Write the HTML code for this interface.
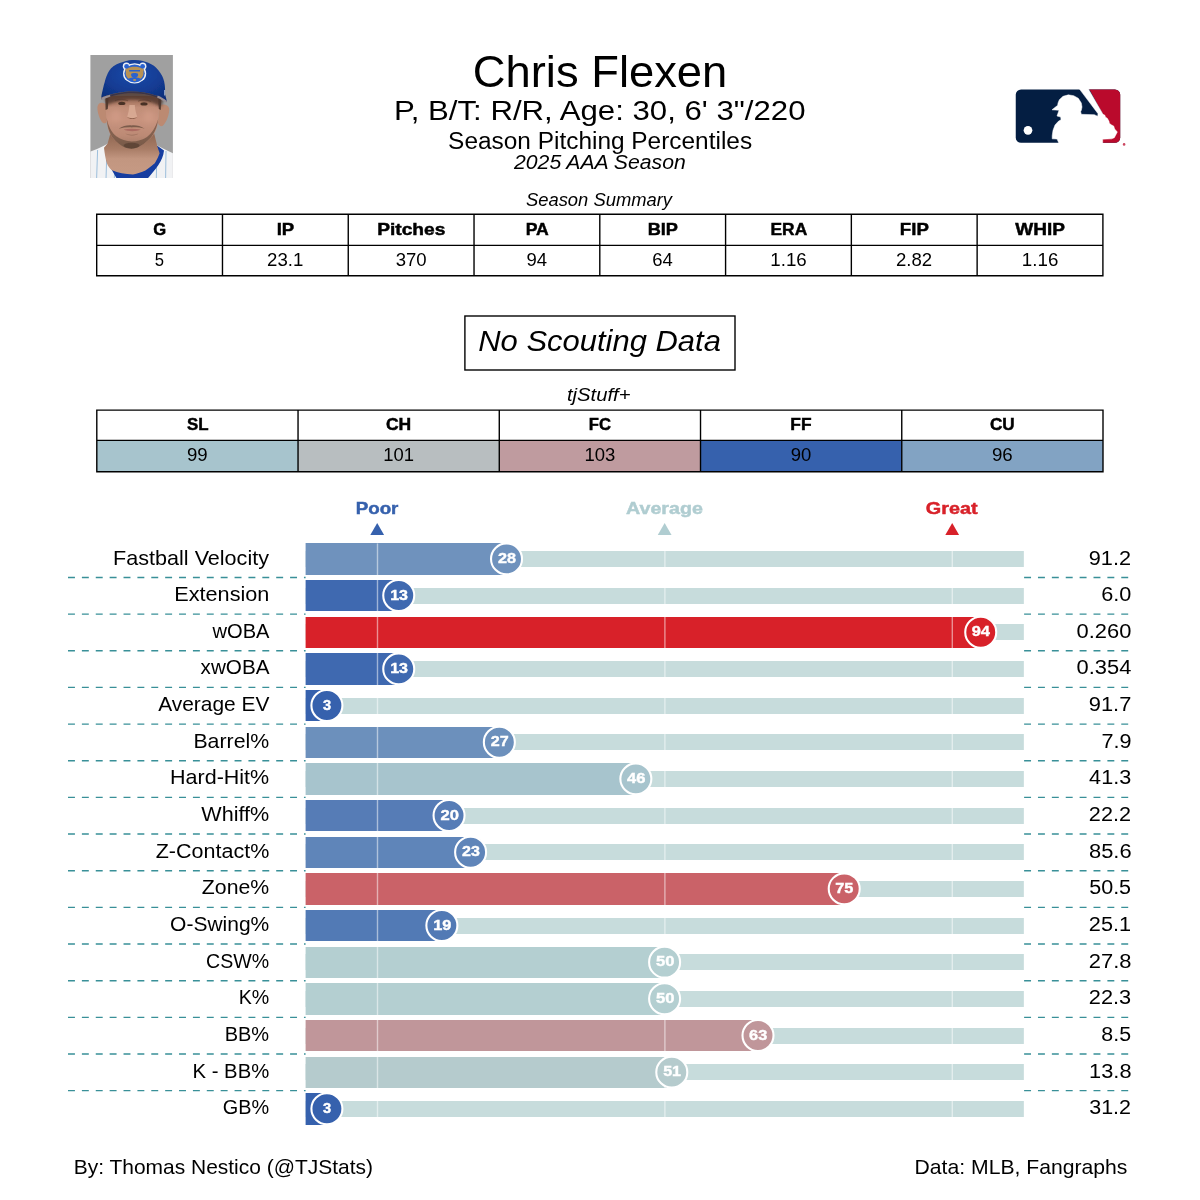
<!DOCTYPE html>
<html lang="en">
<head>
<meta charset="utf-8">
<title>Chris Flexen - Season Pitching Percentiles</title>
<style>
html,body{margin:0;padding:0;background:#fff;}
body{width:1200px;height:1200px;overflow:hidden;font-family:"Liberation Sans",sans-serif;}
svg{display:block;will-change:transform;}
svg text{font-family:"Liberation Sans",sans-serif;}
</style>
</head>
<body>
<svg width="1200" height="1200" viewBox="0 0 1200 1200">
<rect width="1200" height="1200" fill="#fff"/>
<defs>
<clipPath id="hs"><rect x="90.4" y="55.1" width="82.5" height="122.9"/></clipPath>
<filter id="b1" x="-20%" y="-20%" width="140%" height="140%"><feGaussianBlur stdDeviation="0.7"/></filter>
<filter id="b2" x="-30%" y="-30%" width="160%" height="160%"><feGaussianBlur stdDeviation="1.6"/></filter>
<filter id="b3" x="-50%" y="-50%" width="200%" height="200%"><feGaussianBlur stdDeviation="2.6"/></filter>
<linearGradient id="skin" x1="0" y1="0" x2="0" y2="1"><stop offset="0" stop-color="#94644E"/><stop offset="0.22" stop-color="#C18E78"/><stop offset="0.45" stop-color="#C8937E"/><stop offset="0.75" stop-color="#BC8A75"/><stop offset="1" stop-color="#9C7560"/></linearGradient>
<linearGradient id="neck" x1="0" y1="0" x2="0" y2="1"><stop offset="0" stop-color="#8E6650"/><stop offset="0.38" stop-color="#A87C66"/><stop offset="0.62" stop-color="#C29680"/><stop offset="1" stop-color="#C69A84"/></linearGradient>
<radialGradient id="cap" cx="0.5" cy="0.35" r="0.75"><stop offset="0" stop-color="#1A4CAA"/><stop offset="0.55" stop-color="#133C94"/><stop offset="1" stop-color="#0D2E78"/></radialGradient>
</defs>
<g clip-path="url(#hs)">
<rect x="90" y="55" width="84" height="124" fill="#A0A0A0"/>
<g filter="url(#b1)">
<path d="M88 152.6 L97 149 L103.4 146 L108 143.6 L154 143.6 L156.8 145.2 L164.5 149.3 L175 154.2 V180 H88Z" fill="#F1F2F4"/>
<path d="M97.6 150 L96.6 179 M106.6 160 L106 179 M114.6 172 L114.3 179 M156.6 166 L156.3 179 M166 151 L165.6 179" stroke="#9DBFDC" stroke-width="1" fill="none"/>
<path d="M155 144.6 L158 146.2 L164 150.4 C163.4 156 161.5 160 158.4 165 C154.6 170.5 150.6 175 147.2 179 L117 179 L111.4 169.2 L106 160 L112 160 L125 170 L140 170 L152 160Z" fill="#133DA0"/>
<path d="M110.5 133 L107.6 143.5 L104 147.7 C104.6 153 105.4 158 106.6 162.5 C108 166.5 110 168.8 112 170.2 C118 172.6 125 174.2 133 174.4 C137.5 173.9 141.6 172.2 145.4 170.6 C150 167.4 153 164.6 154.8 163.2 C157 159.5 158.6 156 159.6 153.2 L157.4 146.4 L154 133Z" fill="url(#neck)"/>
</g>
<g filter="url(#b1)">
<path d="M106.5 104.5 C102 101.5 98 102.5 97.4 107 C97.2 112 99.6 120 103 123 C105 123.8 106.6 123 107 121Z" fill="#BC8A72"/>
<path d="M158.6 106 C162.5 103.6 168 104 169.2 108.5 C169.6 114 166.5 122.5 162.5 126 C160.5 126.6 158.6 125.5 158 123Z" fill="#BC8A72"/>
<path d="M105.6 96 C105.4 104 106 116 107 124 C108.4 131 110 134.5 112.4 137.5 C115.5 141.4 119 144 122.4 146.2 C126 148.2 129 148.9 131.2 148.9 C134 148.9 137.6 148 141.4 145.6 C146 142.4 149.6 139.4 152.6 136 C155.4 132 157 128 157.8 123.6 C158.8 116 159.4 104 159.2 96Z" fill="url(#skin)"/>
</g>
<g filter="url(#b1)">
<path d="M106.6 118 C107.4 127 109.4 133 112.6 137.6 C116.6 142.6 121.4 145.8 125 147.6 C128.4 149 133 149.2 136.6 147.8 C141.4 145.8 146.4 142.4 150.8 137.6 C154.4 133.2 157 127.6 158.2 119 C155.6 127.6 151.6 133.6 147 137 C142.6 140 137.6 141.4 131.8 141.4 C126 141.4 120.8 139.8 116.6 136.6 C111.6 132.6 108.4 126.6 106.6 118Z" fill="#5E4636" fill-opacity="0.62"/>
<path d="M118.6 128.8 C122.6 126 127.4 125 131.6 125.4 C136 125 140.6 126 144.8 128.8 C140.6 127.6 136.4 127.2 131.8 127.4 C127.4 127.2 123 127.6 118.6 128.8Z" fill="#5E4636" fill-opacity="0.7"/>
<path d="M123.6 129.6 C128.4 128.6 135 128.6 140.8 129.6 C137 131.8 127.4 131.8 123.6 129.6Z" fill="#A8655E" fill-opacity="0.85"/>
<path d="M125.4 133.6 C129 135 134.6 135 138.6 133.6 C136 136.4 128.4 136.4 125.4 133.6Z" fill="#8A6250" fill-opacity="0.5"/>
<ellipse cx="131.6" cy="145.6" rx="8" ry="2.8" fill="#4E392C" fill-opacity="0.6"/>
</g>
<g filter="url(#b3)">
<ellipse cx="116" cy="116" rx="5.5" ry="6" fill="#D39C88" fill-opacity="0.7"/>
<ellipse cx="148.6" cy="116.6" rx="5.5" ry="6" fill="#D39C88" fill-opacity="0.7"/>
</g>
<g filter="url(#b1)">
<path d="M129.4 105 C129.2 110 128 114 127.2 116.6 C129.4 119.6 134.6 119.6 137.2 116.6 C136.2 113.6 135 110 134.8 105Z" fill="#DDB09A" fill-opacity="0.75"/>
<path d="M127 117 C129.6 119.8 134.8 119.8 137.4 117 C135.6 118.4 129.4 118.6 127 117Z" fill="#8F604C"/>
<ellipse cx="121.8" cy="103.4" rx="3.6" ry="1.6" fill="#4A3126"/>
<ellipse cx="144" cy="103.9" rx="3.6" ry="1.6" fill="#4A3126"/>
<path d="M115 100.6 C119 98.8 125 99 128 100.8 M138 101.2 C141.6 99.4 147.6 99.4 151 101.4" stroke="#7A5240" stroke-width="1.2" fill="none" stroke-opacity="0.85"/>
<path d="M105.4 98 L108.6 98 L107.8 109 L105.6 110Z M158.2 98 L161.2 98.4 L160.8 110 L158.8 109Z" fill="#3E2C22" fill-opacity="0.8"/>
</g>
<path d="M104 96 C112 92 125 90.4 135 90.6 C147 91 158 94.4 163.6 99.6 L161 107 C154 102.6 146 100.2 134.6 99.8 C124 99.8 114 101.6 107 105Z" fill="#4E342A" fill-opacity="0.8" filter="url(#b2)"/>
<g filter="url(#b1)">
<path d="M101.2 97.5 C101.8 94 102.2 92 102.8 89.6 C103.4 86.6 104 84 104.8 81.7 C105.6 78.6 106.6 76 107.6 73.8 C108.6 71.6 109.8 69.6 111.1 68.2 C112.8 66.6 114.6 65.4 116.7 64.3 C118.6 63.4 120.8 62.6 123 61.9 C125 61.2 127.2 60.7 129.3 60.3 C131.2 60 133 59.9 134.9 59.9 C137.4 60 139.8 60.3 142 60.7 C144.2 61.2 146.4 61.9 148.3 62.7 C150.4 63.6 152.2 64.6 153.9 65.8 C155.6 67.2 157.2 68.8 158.6 70.6 C160 72.4 161.2 74.2 162.2 76.1 C163 77.8 163.7 79.8 164.2 81.7 C164.7 83.8 164.9 86 165 88 C165.1 90 165.1 92.4 165.1 94.3 L166.8 100.9 C160 96.6 152 93.6 144 92.4 C138 91.4 131 91.2 125 91.8 C116 92.8 108 95 101.2 97.5Z" fill="url(#cap)"/>
<path d="M101.2 97.6 C108 94.9 116 92.9 125 91.9 C131 91.3 138 91.5 144 92.5 C152 93.7 160 96.7 166.8 100.9 L166.5 102 C159.6 98 152 95.2 144 94 C138 93.1 131 92.9 125 93.4 C116 94.4 108 96.8 101.6 99.4Z" fill="#3A3448"/>
<path d="M101.3 97.8 C104 96.6 107 95.6 110 94.8 L110.4 96.6 C107.4 97.6 104.4 98.8 101.8 100.2Z" fill="#9A8F94"/>
<path d="M157.6 95.6 C161 97 164 98.8 166.8 100.9 L166.4 103 C163.6 101 160.6 99.2 157.2 97.8Z" fill="#9A8F94"/>
<g>
<circle cx="126.4" cy="66.2" r="3.6" fill="#EEF0F6"/><circle cx="142.8" cy="66.2" r="3.6" fill="#EEF0F6"/>
<ellipse cx="134.6" cy="73.4" rx="11.6" ry="10.2" fill="#EEF0F6"/>
<circle cx="126.6" cy="66.5" r="2.4" fill="#2A62D0"/><circle cx="142.6" cy="66.5" r="2.4" fill="#2A62D0"/>
<ellipse cx="134.6" cy="73.5" rx="10.2" ry="8.9" fill="#2A62D0"/>
<path d="M127.4 68.6 C129.6 66.2 139.6 66.2 141.8 68.6 C143.8 67.8 144.4 70.2 143.4 71.4 C144 74.6 142.6 77.4 140.6 78.8 C138.6 77 130.6 77 128.6 78.8 C126.6 77.4 125.2 74.6 125.8 71.4 C124.8 70.2 125.4 67.8 127.4 68.6Z" fill="#B89254"/>
<path d="M129.2 70 H140 V71.6 H129.2Z M131.2 73.8 C132.4 72.6 136.8 72.6 138 73.8 C138.6 75.8 137.4 77.8 134.6 78.2 C131.8 77.8 130.6 75.8 131.2 73.8Z" fill="#2A62D0"/>
<ellipse cx="134.6" cy="80" rx="1.6" ry="0.9" fill="#B89254"/>
</g>
</g>
<rect x="164" y="90" width="1.2" height="5.5" fill="#BFC9DD" fill-opacity="0.7"/>
</g>
<defs><clipPath id="mlb"><rect x="1015.75" y="89.4" width="104.45" height="53.4" rx="5.3" ry="5.3"/></clipPath></defs>
<g clip-path="url(#mlb)">
<rect x="1010" y="85" width="120" height="62" fill="#041E42"/>
<path d="M1088.67 88 L1125 88 L1125 146 L1100 146 L1103 114.33Z" fill="#BA0A2C"/>
<circle cx="1028" cy="130.3" r="4.35" fill="#fff"/>
</g>
<path d="M1059.00 143.40 L1057.00 139.00 L1052.20 138.87 L1052.20 135.67 L1053.00 130.33 L1055.00 125.00 L1058.33 121.33 L1061.00 119.67 L1060.67 117.00 L1057.00 116.00 L1059.00 110.33 L1052.00 109.80 L1057.67 105.33 L1058.00 103.00 L1059.33 99.67 L1063.00 96.33 L1068.33 94.87 L1073.67 95.67 L1078.33 98.33 L1081.33 103.00 L1082.00 107.00 L1081.33 110.33 L1080.67 111.67 L1081.33 114.33 L1094.33 114.67 L1097.67 116.33 L1098.00 113.67 L1079.10 88.60 L1088.10 88.60 L1103.00 114.33 L1105.00 115.33 L1105.33 117.00 L1107.33 118.33 L1109.00 121.33 L1109.33 123.33 L1111.67 125.00 L1113.67 126.00 L1114.67 129.00 L1117.33 132.00 L1114.33 137.67 L1111.67 138.87 L1102.67 139.13 L1102.67 143.40Z" fill="#fff" stroke="#fff" stroke-width="0.5" stroke-linejoin="round"/>
<circle cx="1124.1" cy="144.4" r="1.3" fill="#BA0A2C" fill-opacity="0.75"/>
<text x="472.81" y="87.00" font-size="43.68" fill="#000" textLength="254.52" lengthAdjust="spacingAndGlyphs">Chris Flexen</text>
<text x="393.97" y="120.00" font-size="28.35" fill="#000" textLength="411.57" lengthAdjust="spacingAndGlyphs">P, B/T: R/R, Age: 30, 6' 3"/220</text>
<text x="448.11" y="149.00" font-size="23.30" fill="#000" textLength="304.00" lengthAdjust="spacingAndGlyphs">Season Pitching Percentiles</text>
<text x="514.04" y="169.00" font-size="20.56" font-style="italic" fill="#000" textLength="171.74" lengthAdjust="spacingAndGlyphs">2025 AAA Season</text>
<text x="525.97" y="206.00" font-size="17.62" font-style="italic" fill="#000" textLength="146.10" lengthAdjust="spacingAndGlyphs">Season Summary</text>
<path d="M96.01 214.30H1103.60M96.01 245.40H1103.60M96.01 275.80H1103.60M96.70 214.30V275.80M222.48 214.30V275.80M348.25 214.30V275.80M474.03 214.30V275.80M599.80 214.30V275.80M725.58 214.30V275.80M851.35 214.30V275.80M977.13 214.30V275.80M1102.90 214.30V275.80" stroke="#000" stroke-width="1.39" fill="none"/>
<text x="153.15" y="235.00" font-size="17.29" font-weight="bold" stroke="#000" stroke-width="0.47" fill="#000" textLength="12.91" lengthAdjust="spacingAndGlyphs">G</text>
<text x="154.87" y="266.00" font-size="17.63" fill="#000" textLength="9.27" lengthAdjust="spacingAndGlyphs">5</text>
<text x="276.68" y="235.00" font-size="17.29" font-weight="bold" stroke="#000" stroke-width="0.47" fill="#000" textLength="17.54" lengthAdjust="spacingAndGlyphs">IP</text>
<text x="267.04" y="266.00" font-size="17.62" fill="#000" textLength="36.21" lengthAdjust="spacingAndGlyphs">23.1</text>
<text x="377.19" y="235.00" font-size="17.15" font-weight="bold" stroke="#000" stroke-width="0.47" fill="#000" textLength="68.17" lengthAdjust="spacingAndGlyphs">Pitches</text>
<text x="395.74" y="266.00" font-size="17.62" fill="#000" textLength="30.96" lengthAdjust="spacingAndGlyphs">370</text>
<text x="525.71" y="235.00" font-size="17.29" font-weight="bold" stroke="#000" stroke-width="0.47" fill="#000" textLength="23.12" lengthAdjust="spacingAndGlyphs">PA</text>
<text x="526.48" y="266.00" font-size="17.62" fill="#000" textLength="20.59" lengthAdjust="spacingAndGlyphs">94</text>
<text x="647.68" y="235.00" font-size="17.29" font-weight="bold" stroke="#000" stroke-width="0.47" fill="#000" textLength="30.30" lengthAdjust="spacingAndGlyphs">BIP</text>
<text x="652.33" y="266.00" font-size="17.62" fill="#000" textLength="20.51" lengthAdjust="spacingAndGlyphs">64</text>
<text x="770.51" y="235.00" font-size="17.29" font-weight="bold" stroke="#000" stroke-width="0.47" fill="#000" textLength="36.71" lengthAdjust="spacingAndGlyphs">ERA</text>
<text x="770.34" y="266.00" font-size="17.62" fill="#000" textLength="36.43" lengthAdjust="spacingAndGlyphs">1.16</text>
<text x="899.86" y="235.00" font-size="17.29" font-weight="bold" stroke="#000" stroke-width="0.47" fill="#000" textLength="28.98" lengthAdjust="spacingAndGlyphs">FIP</text>
<text x="895.92" y="266.00" font-size="17.62" fill="#000" textLength="36.13" lengthAdjust="spacingAndGlyphs">2.82</text>
<text x="1015.37" y="235.00" font-size="17.29" font-weight="bold" stroke="#000" stroke-width="0.47" fill="#000" textLength="49.70" lengthAdjust="spacingAndGlyphs">WHIP</text>
<text x="1021.89" y="266.00" font-size="17.62" fill="#000" textLength="36.43" lengthAdjust="spacingAndGlyphs">1.16</text>
<rect x="464.9" y="316.0" width="270.1" height="54.0" fill="#fff" stroke="#000" stroke-width="1.39"/>
<text x="478.21" y="351.00" font-size="29.12" font-style="italic" fill="#000" textLength="242.65" lengthAdjust="spacingAndGlyphs">No Scouting Data</text>
<text x="566.95" y="401.00" font-size="17.47" font-style="italic" fill="#000" textLength="63.63" lengthAdjust="spacingAndGlyphs">tjStuff+</text>
<rect x="96.80" y="440.40" width="201.24" height="31.40" fill="#A7C4CD"/>
<rect x="298.04" y="440.40" width="201.24" height="31.40" fill="#B8BEC0"/>
<rect x="499.28" y="440.40" width="201.24" height="31.40" fill="#BF9B9F"/>
<rect x="700.52" y="440.40" width="201.24" height="31.40" fill="#3661AD"/>
<rect x="901.76" y="440.40" width="201.24" height="31.40" fill="#82A3C3"/>
<path d="M96.11 410.10H1103.69M96.11 440.40H1103.69M96.11 471.80H1103.69M96.80 410.10V471.80M298.04 410.10V471.80M499.28 410.10V471.80M700.52 410.10V471.80M901.76 410.10V471.80M1103.00 410.10V471.80" stroke="#000" stroke-width="1.39" fill="none"/>
<text x="187.00" y="430.00" font-size="17.29" font-weight="bold" stroke="#000" stroke-width="0.47" fill="#000" textLength="21.60" lengthAdjust="spacingAndGlyphs">SL</text>
<text x="186.98" y="461.00" font-size="17.62" fill="#000" textLength="20.72" lengthAdjust="spacingAndGlyphs">99</text>
<text x="385.94" y="430.00" font-size="17.29" font-weight="bold" stroke="#000" stroke-width="0.47" fill="#000" textLength="25.28" lengthAdjust="spacingAndGlyphs">CH</text>
<text x="383.20" y="461.00" font-size="17.62" fill="#000" textLength="30.78" lengthAdjust="spacingAndGlyphs">101</text>
<text x="588.74" y="430.00" font-size="17.29" font-weight="bold" stroke="#000" stroke-width="0.47" fill="#000" textLength="22.16" lengthAdjust="spacingAndGlyphs">FC</text>
<text x="584.44" y="461.00" font-size="17.62" fill="#000" textLength="30.86" lengthAdjust="spacingAndGlyphs">103</text>
<text x="790.36" y="430.00" font-size="17.29" font-weight="bold" stroke="#000" stroke-width="0.47" fill="#000" textLength="21.22" lengthAdjust="spacingAndGlyphs">FF</text>
<text x="790.70" y="461.00" font-size="17.62" fill="#000" textLength="20.61" lengthAdjust="spacingAndGlyphs">90</text>
<text x="989.88" y="430.00" font-size="17.29" font-weight="bold" stroke="#000" stroke-width="0.47" fill="#000" textLength="24.74" lengthAdjust="spacingAndGlyphs">CU</text>
<text x="991.93" y="461.00" font-size="17.62" fill="#000" textLength="20.80" lengthAdjust="spacingAndGlyphs">96</text>
<text x="355.70" y="514.00" font-size="17.29" font-weight="bold" stroke="#3661AD" stroke-width="0.47" fill="#3661AD" textLength="42.74" lengthAdjust="spacingAndGlyphs">Poor</text>
<path d="M377.20 523.1L384.10 534.9H370.30Z" fill="#3661AD"/>
<text x="626.04" y="514.00" font-size="17.29" font-weight="bold" stroke="#B0CDD1" stroke-width="0.47" fill="#B0CDD1" textLength="76.86" lengthAdjust="spacingAndGlyphs">Average</text>
<path d="M664.65 523.1L671.55 534.9H657.75Z" fill="#B0CDD1"/>
<text x="925.87" y="514.00" font-size="17.29" font-weight="bold" stroke="#D82129" stroke-width="0.47" fill="#D82129" textLength="51.74" lengthAdjust="spacingAndGlyphs">Great</text>
<path d="M952.20 523.1L959.10 534.9H945.30Z" fill="#D82129"/>
<path d="M68 577.43H305.60M68 614.09H305.60M68 650.75H305.60M68 687.41H305.60M68 724.07H305.60M68 760.73H305.60M68 797.39H305.60M68 834.05H305.60M68 870.71H305.60M68 907.37H305.60M68 944.03H305.60M68 980.69H305.60M68 1017.35H305.60M68 1054.01H305.60M68 1090.67H305.60" stroke="#399098" stroke-width="1.39" stroke-dasharray="6.94 6.94" fill="none"/>
<path d="M1024.1 577.43H1128.3M1024.1 614.09H1128.3M1024.1 650.75H1128.3M1024.1 687.41H1128.3M1024.1 724.07H1128.3M1024.1 760.73H1128.3M1024.1 797.39H1128.3M1024.1 834.05H1128.3M1024.1 870.71H1128.3M1024.1 907.37H1128.3M1024.1 944.03H1128.3M1024.1 980.69H1128.3M1024.1 1017.35H1128.3M1024.1 1054.01H1128.3M1024.1 1090.67H1128.3" stroke="#399098" stroke-width="1.39" stroke-dasharray="6.94 6.94" fill="none"/>
<rect x="305.60" y="551" width="718.25" height="16" fill="#C7DCDC"/>
<rect x="305.60" y="543" width="200.93" height="32" fill="#6F92BD"/>
<rect x="305.60" y="588" width="718.25" height="16" fill="#C7DCDC"/>
<rect x="305.60" y="580" width="93.15" height="31" fill="#3F69B0"/>
<rect x="305.60" y="624" width="718.25" height="16" fill="#C7DCDC"/>
<rect x="305.60" y="617" width="675.14" height="31" fill="#D82129"/>
<rect x="305.60" y="661" width="718.25" height="16" fill="#C7DCDC"/>
<rect x="305.60" y="653" width="93.15" height="32" fill="#3F69B0"/>
<rect x="305.60" y="698" width="718.25" height="16" fill="#C7DCDC"/>
<rect x="305.60" y="690" width="21.31" height="31" fill="#3661AD"/>
<rect x="305.60" y="734" width="718.25" height="16" fill="#C7DCDC"/>
<rect x="305.60" y="727" width="193.75" height="31" fill="#6C90BC"/>
<rect x="305.60" y="771" width="718.25" height="16" fill="#C7DCDC"/>
<rect x="305.60" y="763" width="330.26" height="32" fill="#A7C4CD"/>
<rect x="305.60" y="808" width="718.25" height="16" fill="#C7DCDC"/>
<rect x="305.60" y="800" width="143.45" height="31" fill="#567CB6"/>
<rect x="305.60" y="844" width="718.25" height="16" fill="#C7DCDC"/>
<rect x="305.60" y="837" width="165.00" height="31" fill="#5F85B9"/>
<rect x="305.60" y="881" width="718.25" height="16" fill="#C7DCDC"/>
<rect x="305.60" y="873" width="538.62" height="32" fill="#CA6268"/>
<rect x="305.60" y="918" width="718.25" height="16" fill="#C7DCDC"/>
<rect x="305.60" y="910" width="136.26" height="31" fill="#527AB5"/>
<rect x="305.60" y="954" width="718.25" height="16" fill="#C7DCDC"/>
<rect x="305.60" y="947" width="359.00" height="31" fill="#B4CFD1"/>
<rect x="305.60" y="991" width="718.25" height="16" fill="#C7DCDC"/>
<rect x="305.60" y="983" width="359.00" height="32" fill="#B4CFD1"/>
<rect x="305.60" y="1028" width="718.25" height="16" fill="#C7DCDC"/>
<rect x="305.60" y="1020" width="452.40" height="31" fill="#C0969A"/>
<rect x="305.60" y="1064" width="718.25" height="16" fill="#C7DCDC"/>
<rect x="305.60" y="1057" width="366.19" height="31" fill="#B5CBCD"/>
<rect x="305.60" y="1101" width="718.25" height="16" fill="#C7DCDC"/>
<rect x="305.60" y="1093" width="21.31" height="32" fill="#3661AD"/>
<text x="113.13" y="565.00" font-size="20.38" fill="#000" textLength="155.84" lengthAdjust="spacingAndGlyphs">Fastball Velocity</text>
<text x="1088.79" y="565.00" font-size="20.56" fill="#000" textLength="42.24" lengthAdjust="spacingAndGlyphs">91.2</text>
<text x="174.26" y="601.00" font-size="20.38" fill="#000" textLength="95.15" lengthAdjust="spacingAndGlyphs">Extension</text>
<text x="1101.25" y="601.00" font-size="20.56" fill="#000" textLength="30.14" lengthAdjust="spacingAndGlyphs">6.0</text>
<text x="212.53" y="638.00" font-size="20.56" fill="#000" textLength="56.96" lengthAdjust="spacingAndGlyphs">wOBA</text>
<text x="1076.62" y="638.00" font-size="20.56" fill="#000" textLength="54.78" lengthAdjust="spacingAndGlyphs">0.260</text>
<text x="200.62" y="674.00" font-size="20.56" fill="#000" textLength="68.93" lengthAdjust="spacingAndGlyphs">xwOBA</text>
<text x="1076.62" y="674.00" font-size="20.56" fill="#000" textLength="54.75" lengthAdjust="spacingAndGlyphs">0.354</text>
<text x="158.18" y="711.00" font-size="20.57" fill="#000" textLength="111.30" lengthAdjust="spacingAndGlyphs">Average EV</text>
<text x="1088.79" y="711.00" font-size="20.56" fill="#000" textLength="42.55" lengthAdjust="spacingAndGlyphs">91.7</text>
<text x="193.42" y="748.00" font-size="20.38" fill="#000" textLength="75.78" lengthAdjust="spacingAndGlyphs">Barrel%</text>
<text x="1101.45" y="748.00" font-size="20.56" fill="#000" textLength="30.06" lengthAdjust="spacingAndGlyphs">7.9</text>
<text x="170.05" y="784.00" font-size="20.38" fill="#000" textLength="99.14" lengthAdjust="spacingAndGlyphs">Hard-Hit%</text>
<text x="1089.14" y="784.00" font-size="20.56" fill="#000" textLength="42.06" lengthAdjust="spacingAndGlyphs">41.3</text>
<text x="201.35" y="821.00" font-size="20.38" fill="#000" textLength="67.92" lengthAdjust="spacingAndGlyphs">Whiff%</text>
<text x="1088.88" y="821.00" font-size="20.56" fill="#000" textLength="42.15" lengthAdjust="spacingAndGlyphs">22.2</text>
<text x="155.70" y="858.00" font-size="20.56" fill="#000" textLength="113.58" lengthAdjust="spacingAndGlyphs">Z-Contact%</text>
<text x="1088.99" y="858.00" font-size="20.56" fill="#000" textLength="42.61" lengthAdjust="spacingAndGlyphs">85.6</text>
<text x="201.86" y="894.00" font-size="20.70" fill="#000" textLength="67.36" lengthAdjust="spacingAndGlyphs">Zone%</text>
<text x="1089.20" y="894.00" font-size="20.56" fill="#000" textLength="41.90" lengthAdjust="spacingAndGlyphs">50.5</text>
<text x="170.07" y="931.00" font-size="20.38" fill="#000" textLength="99.17" lengthAdjust="spacingAndGlyphs">O-Swing%</text>
<text x="1088.88" y="931.00" font-size="20.56" fill="#000" textLength="42.24" lengthAdjust="spacingAndGlyphs">25.1</text>
<text x="206.07" y="968.00" font-size="20.56" fill="#000" textLength="63.05" lengthAdjust="spacingAndGlyphs">CSW%</text>
<text x="1088.87" y="968.00" font-size="20.56" fill="#000" textLength="42.64" lengthAdjust="spacingAndGlyphs">27.8</text>
<text x="238.65" y="1004.00" font-size="20.70" fill="#000" textLength="30.57" lengthAdjust="spacingAndGlyphs">K%</text>
<text x="1088.88" y="1004.00" font-size="20.56" fill="#000" textLength="42.33" lengthAdjust="spacingAndGlyphs">22.3</text>
<text x="224.69" y="1041.00" font-size="20.70" fill="#000" textLength="44.46" lengthAdjust="spacingAndGlyphs">BB%</text>
<text x="1101.38" y="1041.00" font-size="20.56" fill="#000" textLength="29.71" lengthAdjust="spacingAndGlyphs">8.5</text>
<text x="192.54" y="1078.00" font-size="20.70" fill="#000" textLength="76.69" lengthAdjust="spacingAndGlyphs">K - BB%</text>
<text x="1089.11" y="1078.00" font-size="20.56" fill="#000" textLength="42.39" lengthAdjust="spacingAndGlyphs">13.8</text>
<text x="222.79" y="1114.00" font-size="20.56" fill="#000" textLength="46.39" lengthAdjust="spacingAndGlyphs">GB%</text>
<text x="1089.20" y="1114.00" font-size="20.56" fill="#000" textLength="41.82" lengthAdjust="spacingAndGlyphs">31.2</text>
<rect x="376.80" y="543.43" width="1.39" height="581.24" fill="#fff" fill-opacity="0.5"/>
<rect x="664.20" y="543.43" width="1.39" height="581.24" fill="#fff" fill-opacity="0.5"/>
<rect x="951.60" y="543.43" width="1.39" height="581.24" fill="#fff" fill-opacity="0.5"/>
<circle cx="506.53" cy="558.90" r="15.5" fill="#6F92BD" stroke="#fff" stroke-width="2.08"/>
<text x="497.90" y="563.00" font-size="14.40" font-weight="bold" stroke="#fff" stroke-width="0.39" fill="#fff" textLength="18.07" lengthAdjust="spacingAndGlyphs">28</text>
<circle cx="398.75" cy="595.56" r="15.5" fill="#3F69B0" stroke="#fff" stroke-width="2.08"/>
<text x="390.15" y="600.00" font-size="14.40" font-weight="bold" stroke="#fff" stroke-width="0.39" fill="#fff" textLength="17.84" lengthAdjust="spacingAndGlyphs">13</text>
<circle cx="980.74" cy="632.22" r="15.5" fill="#D82129" stroke="#fff" stroke-width="2.08"/>
<text x="971.69" y="636.00" font-size="14.40" font-weight="bold" stroke="#fff" stroke-width="0.39" fill="#fff" textLength="18.29" lengthAdjust="spacingAndGlyphs">94</text>
<circle cx="398.75" cy="668.88" r="15.5" fill="#3F69B0" stroke="#fff" stroke-width="2.08"/>
<text x="390.15" y="673.00" font-size="14.40" font-weight="bold" stroke="#fff" stroke-width="0.39" fill="#fff" textLength="17.84" lengthAdjust="spacingAndGlyphs">13</text>
<circle cx="326.91" cy="705.54" r="15.5" fill="#3661AD" stroke="#fff" stroke-width="2.08"/>
<text x="323.10" y="710.00" font-size="14.40" font-weight="bold" stroke="#fff" stroke-width="0.39" fill="#fff" textLength="8.15" lengthAdjust="spacingAndGlyphs">3</text>
<circle cx="499.35" cy="742.20" r="15.5" fill="#6C90BC" stroke="#fff" stroke-width="2.08"/>
<text x="490.72" y="746.00" font-size="14.40" font-weight="bold" stroke="#fff" stroke-width="0.39" fill="#fff" textLength="17.94" lengthAdjust="spacingAndGlyphs">27</text>
<circle cx="635.86" cy="778.86" r="15.5" fill="#A7C4CD" stroke="#fff" stroke-width="2.08"/>
<text x="627.07" y="783.00" font-size="14.40" font-weight="bold" stroke="#fff" stroke-width="0.39" fill="#fff" textLength="18.47" lengthAdjust="spacingAndGlyphs">46</text>
<circle cx="449.05" cy="815.52" r="15.5" fill="#567CB6" stroke="#fff" stroke-width="2.08"/>
<text x="440.41" y="820.00" font-size="14.40" font-weight="bold" stroke="#fff" stroke-width="0.39" fill="#fff" textLength="18.46" lengthAdjust="spacingAndGlyphs">20</text>
<circle cx="470.61" cy="852.18" r="15.5" fill="#5F85B9" stroke="#fff" stroke-width="2.08"/>
<text x="461.99" y="856.00" font-size="14.40" font-weight="bold" stroke="#fff" stroke-width="0.39" fill="#fff" textLength="17.86" lengthAdjust="spacingAndGlyphs">23</text>
<circle cx="844.23" cy="888.84" r="15.5" fill="#CA6268" stroke="#fff" stroke-width="2.08"/>
<text x="835.31" y="893.00" font-size="14.41" font-weight="bold" stroke="#fff" stroke-width="0.39" fill="#fff" textLength="18.14" lengthAdjust="spacingAndGlyphs">75</text>
<circle cx="441.87" cy="925.50" r="15.5" fill="#527AB5" stroke="#fff" stroke-width="2.08"/>
<text x="433.24" y="930.00" font-size="14.40" font-weight="bold" stroke="#fff" stroke-width="0.39" fill="#fff" textLength="18.14" lengthAdjust="spacingAndGlyphs">19</text>
<circle cx="664.60" cy="962.16" r="15.5" fill="#B4CFD1" stroke="#fff" stroke-width="2.08"/>
<text x="655.97" y="966.00" font-size="14.40" font-weight="bold" stroke="#fff" stroke-width="0.39" fill="#fff" textLength="18.45" lengthAdjust="spacingAndGlyphs">50</text>
<circle cx="664.60" cy="998.82" r="15.5" fill="#B4CFD1" stroke="#fff" stroke-width="2.08"/>
<text x="655.97" y="1003.00" font-size="14.40" font-weight="bold" stroke="#fff" stroke-width="0.39" fill="#fff" textLength="18.45" lengthAdjust="spacingAndGlyphs">50</text>
<circle cx="758.00" cy="1035.48" r="15.5" fill="#C0969A" stroke="#fff" stroke-width="2.08"/>
<text x="749.10" y="1040.00" font-size="14.40" font-weight="bold" stroke="#fff" stroke-width="0.39" fill="#fff" textLength="18.15" lengthAdjust="spacingAndGlyphs">63</text>
<circle cx="671.79" cy="1072.14" r="15.5" fill="#B5CBCD" stroke="#fff" stroke-width="2.08"/>
<text x="663.17" y="1076.00" font-size="14.41" font-weight="bold" stroke="#fff" stroke-width="0.39" fill="#fff" textLength="17.89" lengthAdjust="spacingAndGlyphs">51</text>
<circle cx="326.91" cy="1108.80" r="15.5" fill="#3661AD" stroke="#fff" stroke-width="2.08"/>
<text x="323.10" y="1113.00" font-size="14.40" font-weight="bold" stroke="#fff" stroke-width="0.39" fill="#fff" textLength="8.15" lengthAdjust="spacingAndGlyphs">3</text>
<text x="73.77" y="1174.00" font-size="20.38" fill="#000" textLength="299.24" lengthAdjust="spacingAndGlyphs">By: Thomas Nestico (@TJStats)</text>
<text x="914.59" y="1174.00" font-size="20.38" fill="#000" textLength="212.84" lengthAdjust="spacingAndGlyphs">Data: MLB, Fangraphs</text>
</svg>
</body>
</html>
